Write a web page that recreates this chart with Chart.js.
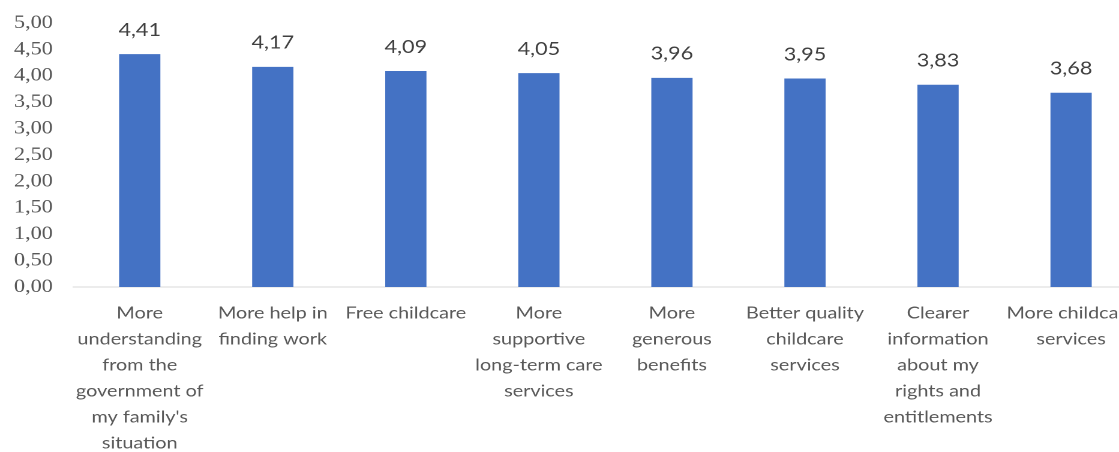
<!DOCTYPE html>
<html>
<head>
<meta charset="utf-8">
<script src="https://cdn.jsdelivr.net/npm/chart.js@4/dist/chart.umd.min.js"></script>
<style>
  html, body { margin: 0; padding: 0; background: #fff; overflow: hidden; }
  /* the source image is stretched horizontally, so draw narrower and scale */
  #wrap { position: relative; width: 950px; height: 452px; transform: scaleX(1.2); transform-origin: 0 0; }
</style>
</head>
<body>
<div id="wrap"><canvas id="chart"></canvas></div>
<script>
// Chart data
const categories = [
  ['More', 'understanding', 'from the', 'government of', "my family's", 'situation'],
  ['More help in', 'finding work'],
  ['Free childcare'],
  ['More', 'supportive', 'long-term care', 'services'],
  ['More', 'generous', 'benefits'],
  ['Better quality', 'childcare', 'services'],
  ['Clearer', 'information', 'about my', 'rights and', 'entitlements'],
  ['More childcare', 'services']
];
const scores = [4.41, 4.17, 4.09, 4.05, 3.96, 3.95, 3.83, 3.68];
const yTicks = [0, 0.5, 1, 1.5, 2, 2.5, 3, 3.5, 4, 4.5, 5];

const fmt = v => Number(v).toFixed(2).replace('.', ',');

// Value labels above the bars
const barLabels = {
  id: 'barLabels',
  afterDatasetsDraw(chart) {
    const ctx = chart.ctx;
    const meta = chart.getDatasetMeta(0);
    ctx.save();
    ctx.font = '18px Lato';
    ctx.fillStyle = '#404040';
    ctx.textAlign = 'center';
    ctx.textBaseline = 'middle';
    meta.data.forEach((bar, i) => {
      ctx.fillText(fmt(scores[i]), bar.x, bar.y - 24);
    });
    ctx.restore();
  }
};

new Chart(document.getElementById('chart'), {
  type: 'bar',
  data: {
    labels: categories,
    datasets: [{
      data: scores,
      backgroundColor: '#4472C4',
      borderWidth: 0,
      categoryPercentage: 1,
      barPercentage: 0.31
    }]
  },
  options: {
    responsive: true,
    maintainAspectRatio: false,
    animation: false,
    devicePixelRatio: 2,
    layout: { padding: { top: 23, right: 2, left: 0, bottom: 0 } },
    plugins: {
      legend: { display: false },
      tooltip: { enabled: false }
    },
    scales: {
      x: {
        grid: { display: false, drawTicks: false },
        border: { color: '#D9D9D9', width: 1 },
        ticks: {
          autoSkip: false,
          maxRotation: 0,
          padding: 13,
          color: '#595959',
          font: { family: 'Lato', size: 16.5, lineHeight: 1.576 }
        },
        afterFit: scale => {
          scale.height = 165;
          // let the last label run off the edge like the original
          scale.paddingLeft = 0;
          scale.paddingRight = 0;
        }
      },
      y: {
        min: 0,
        max: 5,
        grid: { display: false, drawTicks: false },
        border: { display: false },
        afterBuildTicks: scale => { scale.ticks = yTicks.map(v => ({ value: v })); },
        ticks: {
          autoSkip: false,
          padding: 17,
          color: '#595959',
          font: { family: 'Liberation Serif', size: 18.5 },
          callback: v => fmt(v)
        },
        afterFit: scale => {
          scale.width = 61;
          scale.paddingTop = 0;
          scale.paddingBottom = 0;
        }
      }
    }
  },
  plugins: [barLabels]
});
</script>
</body>
</html>
